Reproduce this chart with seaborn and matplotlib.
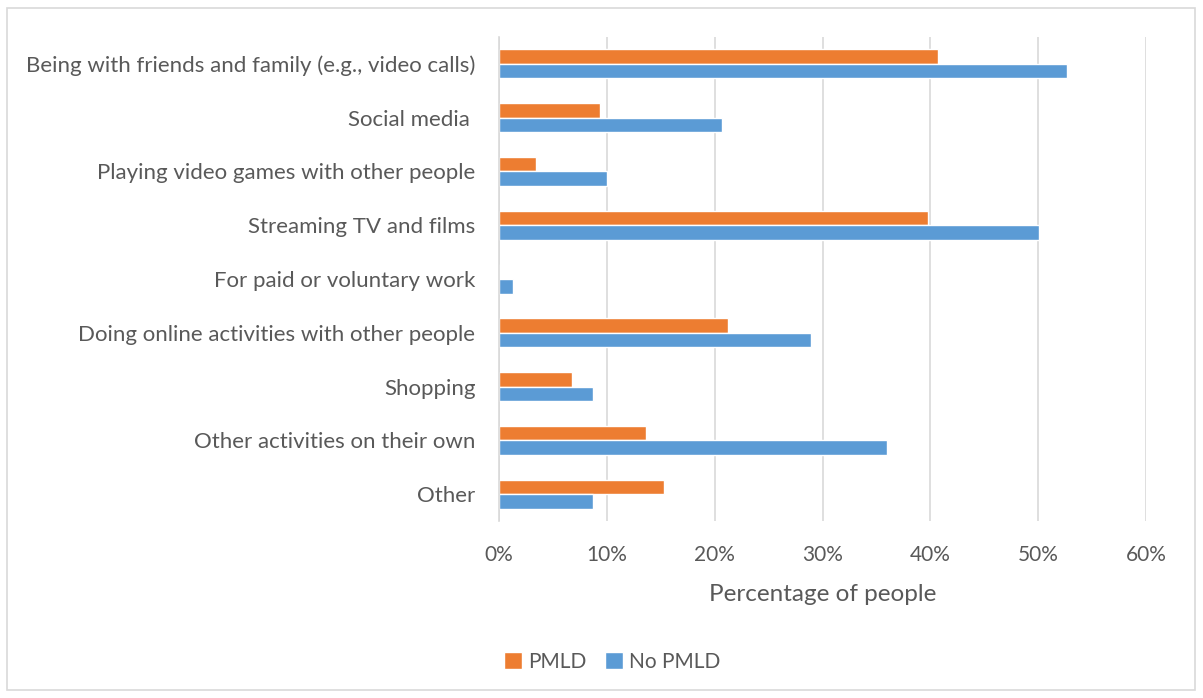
import matplotlib
matplotlib.use("Agg")
import matplotlib.pyplot as plt
import seaborn as sns
import pandas as pd
from matplotlib.patches import Rectangle
from matplotlib.ticker import PercentFormatter

categories = [
    "Being with friends and family (e.g., video calls)",
    "Social media ",
    "Playing video games with other people",
    "Streaming TV and films",
    "For paid or voluntary work",
    "Doing online activities with other people",
    "Shopping",
    "Other activities on their own",
    "Other",
]
pmld = [40.7, 9.35, 3.4, 39.8, 0.0, 21.2, 6.8, 13.6, 15.3]
no_pmld = [52.7, 20.7, 10.0, 50.1, 1.3, 28.9, 8.7, 36.0, 8.7]
groups = ["PMLD", "No PMLD"]
colors = ["#ED7D31", "#5B9BD5"]
xticks = [0, 10, 20, 30, 40, 50, 60]

df = pd.DataFrame({
    "category": categories * 2,
    "value": pmld + no_pmld,
    "group": [groups[0]] * len(categories) + [groups[1]] * len(categories),
})

sns.set_style("white")
plt.rcParams["font.family"] = ["Lato", "DejaVu Sans"]
text_color = "#595959"

fig = plt.figure(figsize=(12.03, 6.98), dpi=100)
ax = fig.add_axes([499 / 1203, 1 - 521 / 698, (1146 - 499) / 1203, (521 - 37) / 698])

sns.barplot(data=df, y="category", x="value", hue="group", hue_order=groups,
            order=categories, palette=colors, orient="h", width=0.54, gap=0,
            ax=ax, legend=True, saturation=1)

ax.set_xlim(0, 60)
ax.set_xticks(xticks)
ax.xaxis.set_major_formatter(PercentFormatter(decimals=0))
ax.grid(axis="x", color="#d9d9d9", linewidth=1.2)
ax.set_axisbelow(True)
for s in ["top", "right", "bottom"]:
    ax.spines[s].set_visible(False)
ax.spines["left"].set_color("#d9d9d9")
ax.spines["left"].set_linewidth(1.2)
ax.tick_params(axis="y", length=0, labelsize=16, colors=text_color, pad=17)
ax.tick_params(axis="x", length=0, labelsize=15, colors=text_color, pad=17)
ax.set_ylabel("")
ax.set_xlabel("Percentage of people", fontsize=17.5, color=text_color, labelpad=14)

ax.legend_.remove()
handles, labels = ax.get_legend_handles_labels()
leg = fig.legend(handles, labels, loc="center", bbox_to_anchor=(612 / 1203, 1 - 662 / 698),
                 ncol=2, frameon=False, fontsize=15, handlelength=0.85, handleheight=0.85,
                 handletextpad=0.3, columnspacing=0.9, labelcolor=text_color)

fig.patches.append(Rectangle((7 / 1203, 1 - 690 / 698), (1195 - 7) / 1203, (690 - 8) / 698,
                             transform=fig.transFigure, fill=False, edgecolor="#d9d9d9",
                             linewidth=1.2))

fig.savefig("out.png", dpi=100)
